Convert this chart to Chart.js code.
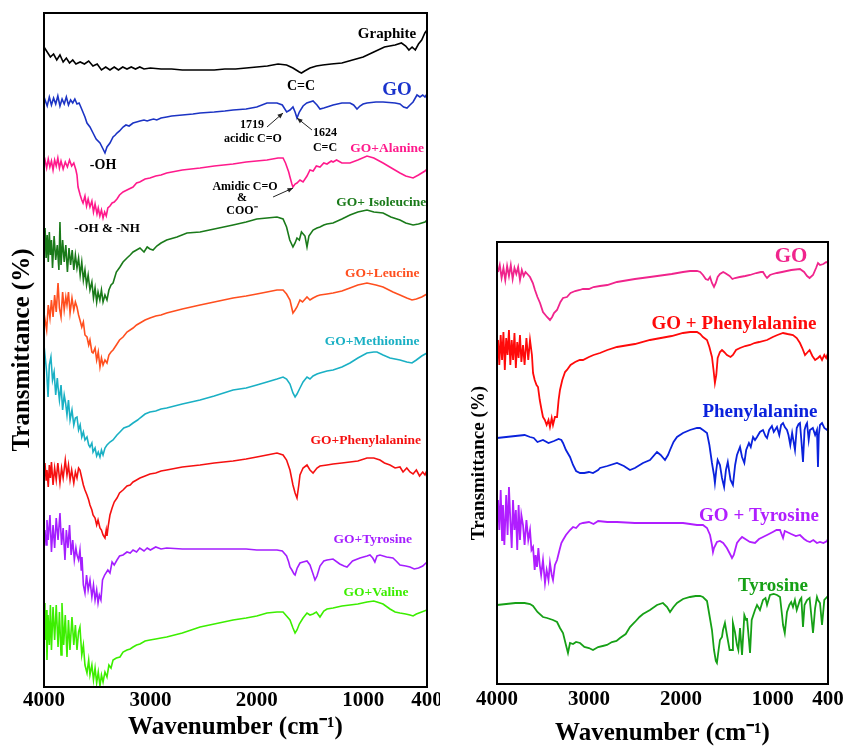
<!DOCTYPE html>
<html>
<head>
    <title>FTIR spectra - GO and amino acids</title>
    <script src="https://cdn.jsdelivr.net/npm/chart.js"></script>
    <style>
        body { margin: 0; background: #fff; }
        canvas { position: absolute; top: 0; }
        #leftChart { left: 0; }
        #rightChart { left: 450px; }
    </style>
</head>
<body>
    <canvas id="leftChart" width="440" height="749"></canvas>
    <canvas id="rightChart" width="395" height="749"></canvas>

    <script type="text/javascript">
        // wavenumber ticks (cm-1), same for both panels
        var xTicks = [4000, 3000, 2000, 1000, 400];

        // ---- left panel: stacked spectra, [wavenumber, transmittance a.u.] ----
        var graphite = [[4000,640],[3970,635],[3940,630],[3910,633],[3880,627],[3850,632],[3820,625],[3790,629],[3760,624],[3730,627],[3700,623],[3660,625],[3620,623],[3580,626],[3540,621],[3500,623],[3460,617],[3420,620],[3380,617],[3340,620],[3300,617],[3260,620],[3220,618],[3180,620],[3140,618],[3100,620],[3060,618],[3000,619],[2900,618],[2800,618],[2700,617],[2600,617],[2500,617],[2400,617],[2300,618],[2200,618],[2100,619],[2000,620],[1900,621],[1800,623],[1720,622],[1660,619],[1600,615],[1580,614],[1550,616],[1500,619],[1440,621],[1380,622],[1300,623],[1200,624],[1100,627],[1000,630],[900,635],[800,640],[700,642],[640,644],[600,641],[570,637],[540,640],[510,637],[480,643],[450,647],[420,654],[400,657]];

        var goLeft = [[4000,584],[3990,587],[3970,581],[3950,590],[3930,582],[3910,589],[3890,583],[3870,591],[3850,581],[3830,588],[3810,583],[3790,590],[3770,582],[3750,587],[3730,584],[3710,588],[3690,583],[3670,584],[3650,579],[3615,570],[3596,564],[3568,560],[3539,554],[3510,548],[3474,544],[3445,538],[3427,534],[3408,540],[3380,544],[3351,550],[3330,552],[3314,554],[3290,556],[3257,560],[3230,562],[3200,561],[3163,564],[3130,565],[3098,566],[3060,567],[3030,566],[3004,567],[2970,568],[2940,567],[2900,569],[2847,570],[2800,571],[2700,572],[2600,573],[2533,574],[2400,575],[2300,576],[2223,577],[2100,578],[2000,580],[1904,584],[1810,584],[1760,582],[1719,575],[1688,577],[1660,580],[1640,575],[1622,569],[1600,575],[1565,581],[1530,584],[1471,586],[1434,582],[1406,578],[1370,579],[1340,580],[1283,582],[1200,584],[1124,584],[1090,582],[1058,578],[1030,581],[1001,583],[964,584],[880,585],[813,585],[700,584],[654,583],[620,580],[588,579],[560,582],[531,585],[494,592],[466,590],[440,592],[419,590],[400,593]];

        var goAlanine = [[4000,524],[3990,527],[3975,519],[3960,528],[3945,520],[3930,526],[3915,517],[3900,527],[3885,521],[3870,529],[3855,519],[3840,526],[3820,518],[3800,525],[3780,520],[3760,527],[3740,521],[3720,524],[3700,517],[3690,512],[3680,500],[3660,492],[3645,487],[3633,484],[3615,491],[3600,481],[3585,488],[3568,480],[3550,486],[3535,475],[3520,483],[3502,473],[3490,479],[3475,471],[3460,477],[3445,469],[3430,475],[3415,471],[3400,479],[3380,481],[3360,484],[3340,485],[3314,488],[3290,492],[3257,495],[3220,497],[3163,500],[3130,504],[3100,505],[3050,508],[3004,509],[2950,511],[2900,512],[2847,514],[2700,517],[2533,519],[2400,521],[2223,523],[2100,525],[1904,527],[1800,529],[1753,529],[1730,524],[1700,515],[1688,510],[1670,503],[1660,500],[1640,503],[1622,504],[1594,507],[1565,505],[1528,511],[1500,517],[1470,516],[1440,521],[1406,520],[1370,524],[1340,523],[1300,526],[1283,525],[1250,527],[1200,524],[1124,524],[1050,527],[964,531],[900,529],[813,524],[750,520],[654,514],[600,511],[531,509],[480,512],[419,516],[400,518]];

        var goIsoleucine = [[4000,447],[3990,459],[3980,429],[3970,452],[3960,425],[3950,455],[3940,432],[3930,447],[3920,419],[3905,451],[3890,427],[3875,442],[3860,417],[3850,465],[3840,422],[3825,447],[3810,425],[3795,442],[3780,415],[3765,439],[3750,422],[3735,437],[3720,417],[3705,432],[3690,419],[3675,429],[3660,412],[3645,425],[3630,407],[3615,417],[3600,402],[3585,412],[3568,397],[3550,405],[3535,389],[3520,399],[3505,385],[3492,395],[3475,387],[3460,397],[3445,385],[3427,392],[3408,387],[3390,397],[3370,402],[3351,404],[3320,415],[3286,420],[3257,425],[3220,429],[3190,432],[3163,435],[3130,437],[3098,439],[3060,435],[3030,440],[3004,438],[2975,437],[2940,441],[2900,444],[2847,447],[2750,450],[2656,454],[2533,455],[2400,458],[2223,462],[2100,465],[2000,468],[1904,469],[1810,470],[1753,468],[1720,460],[1690,447],[1660,440],[1640,444],[1622,449],[1600,447],[1580,455],[1547,451],[1528,440],[1510,451],[1471,457],[1434,459],[1406,460],[1370,462],[1340,463],[1283,464],[1200,468],[1124,472],[1050,475],[964,477],[900,475],[813,474],[740,470],[654,467],[600,464],[531,462],[480,463],[419,465],[400,467]];

        var goLeucine = [[4000,360],[3990,367],[3975,357],[3960,382],[3944,369],[3930,387],[3915,370],[3900,392],[3885,375],[3868,404],[3855,379],[3840,370],[3825,395],[3810,377],[3795,390],[3784,382],[3770,395],[3755,374],[3737,389],[3720,377],[3705,385],[3690,380],[3675,372],[3662,367],[3645,360],[3630,365],[3615,352],[3596,350],[3580,342],[3568,347],[3550,335],[3539,334],[3520,339],[3505,327],[3490,335],[3474,320],[3460,329],[3445,322],[3427,327],[3408,324],[3390,332],[3370,335],[3351,337],[3320,342],[3290,347],[3257,350],[3220,355],[3163,359],[3130,362],[3098,364],[3050,367],[3004,369],[2950,371],[2900,372],[2847,374],[2700,378],[2533,382],[2400,385],[2223,389],[2100,391],[2000,393],[1904,395],[1810,397],[1753,397],[1720,393],[1688,387],[1660,374],[1640,377],[1622,380],[1594,387],[1570,385],[1528,390],[1500,387],[1471,389],[1434,391],[1406,392],[1340,393],[1283,394],[1200,396],[1124,399],[1050,402],[964,404],[880,402],[813,400],[720,395],[654,392],[590,389],[541,387],[500,388],[450,390],[400,393]];

        var goMethionine = [[4000,342],[3991,342],[3975,315],[3962,290],[3950,322],[3935,330],[3920,307],[3905,315],[3890,292],[3875,309],[3868,300],[3855,287],[3840,302],[3825,277],[3810,292],[3797,284],[3784,272],[3770,287],[3755,267],[3737,277],[3720,262],[3705,269],[3690,270],[3675,257],[3660,262],[3645,250],[3630,255],[3615,247],[3596,250],[3580,242],[3568,240],[3550,244],[3539,235],[3520,239],[3505,231],[3490,235],[3474,230],[3460,237],[3445,232],[3427,239],[3408,242],[3380,245],[3351,247],[3314,252],[3286,255],[3250,259],[3200,261],[3163,264],[3120,267],[3098,269],[3050,273],[3004,275],[2950,276],[2900,278],[2847,279],[2700,283],[2533,287],[2400,291],[2223,297],[2100,299],[2000,302],[1904,305],[1810,308],[1753,310],[1720,308],[1688,303],[1660,294],[1640,290],[1622,293],[1594,299],[1565,305],[1528,310],[1500,308],[1471,311],[1434,313],[1406,314],[1340,316],[1283,317],[1200,320],[1124,324],[1050,329],[964,334],[900,335],[870,335],[813,332],[748,329],[654,327],[590,325],[541,324],[500,327],[450,331],[400,334]];

        var goPhenylalanine = [[4000,217],[3991,224],[3980,207],[3972,217],[3960,200],[3950,222],[3940,209],[3930,225],[3915,202],[3900,219],[3885,207],[3870,224],[3850,204],[3835,219],[3820,209],[3800,227],[3784,212],[3770,222],[3755,207],[3740,217],[3720,204],[3705,215],[3690,209],[3675,219],[3662,217],[3645,209],[3630,202],[3615,197],[3596,192],[3580,187],[3568,182],[3550,177],[3539,172],[3520,169],[3505,162],[3492,167],[3474,159],[3460,157],[3445,152],[3427,149],[3415,157],[3408,151],[3395,162],[3380,172],[3360,179],[3340,185],[3314,189],[3290,194],[3257,197],[3220,201],[3190,202],[3163,205],[3130,207],[3098,209],[3050,211],[3004,213],[2950,214],[2900,216],[2847,217],[2700,220],[2533,222],[2400,224],[2223,226],[2100,228],[2000,230],[1904,232],[1810,234],[1753,232],[1720,227],[1688,217],[1660,202],[1640,194],[1622,189],[1605,202],[1594,212],[1565,219],[1528,222],[1500,217],[1471,214],[1434,219],[1406,221],[1340,222],[1283,223],[1200,224],[1124,225],[1050,226],[964,229],[900,229],[842,227],[800,224],[748,222],[700,219],[654,220],[625,215],[590,219],[560,215],[531,213],[500,217],[470,211],[440,215],[419,212],[400,217]];

        var goTyrosine = [[4000,150],[3991,157],[3980,142],[3972,167],[3960,147],[3944,172],[3930,135],[3915,162],[3900,139],[3885,169],[3868,147],[3850,174],[3835,142],[3820,159],[3803,127],[3790,157],[3775,139],[3760,162],[3745,132],[3730,147],[3715,127],[3700,139],[3690,132],[3675,127],[3662,137],[3650,117],[3643,130],[3630,102],[3615,94],[3600,112],[3585,97],[3568,107],[3550,90],[3535,102],[3520,87],[3505,97],[3492,84],[3480,92],[3465,87],[3450,107],[3430,112],[3400,117],[3380,114],[3360,125],[3340,122],[3314,127],[3290,131],[3257,132],[3220,135],[3190,134],[3163,137],[3130,135],[3100,139],[3060,136],[3030,139],[3000,137],[2950,140],[2900,138],[2847,139],[2700,138],[2533,138],[2400,138],[2223,138],[2100,138],[2000,137],[1904,137],[1810,137],[1760,136],[1720,131],[1700,125],[1688,120],[1670,117],[1650,113],[1640,112],[1620,119],[1594,124],[1565,125],[1528,126],[1500,122],[1471,113],[1453,107],[1434,111],[1406,121],[1370,126],[1340,127],[1283,128],[1220,123],[1180,121],[1152,120],[1100,126],[1030,129],[964,131],[936,132],[910,129],[890,125],[870,131],[842,132],[780,130],[720,129],[690,126],[654,122],[600,121],[560,120],[520,118],[480,119],[440,121],[400,125]];

        var goValine = [[4000,84],[3991,47],[3980,77],[3972,27],[3962,72],[3950,42],[3940,82],[3930,37],[3915,80],[3900,47],[3885,82],[3868,40],[3855,75],[3840,32],[3831,84],[3815,42],[3800,72],[3784,30],[3770,67],[3756,37],[3737,70],[3720,42],[3705,62],[3690,37],[3675,55],[3662,60],[3645,32],[3630,42],[3615,22],[3596,14],[3580,27],[3568,12],[3550,22],[3535,7],[3520,19],[3505,4],[3490,15],[3474,1],[3460,12],[3445,5],[3427,15],[3408,10],[3390,22],[3370,19],[3351,27],[3320,29],[3286,30],[3257,35],[3220,37],[3190,38],[3163,40],[3130,42],[3098,43],[3050,46],[3004,47],[2950,48],[2900,49],[2847,50],[2700,54],[2533,60],[2400,63],[2223,67],[2100,69],[2000,71],[1904,74],[1810,75],[1753,75],[1720,71],[1688,67],[1660,59],[1640,54],[1622,57],[1600,63],[1565,69],[1528,74],[1500,72],[1471,73],[1440,75],[1406,70],[1370,76],[1340,78],[1283,79],[1200,81],[1124,82],[1050,83],[964,85],[900,86],[870,85],[813,83],[748,78],[700,75],[654,74],[600,73],[560,72],[531,71],[500,73],[450,75],[400,77]];

        // ---- right panel ----
        var goRight = [[3989,412],[3970,419],[3950,406],[3930,416],[3910,404],[3890,418],[3870,408],[3850,419],[3830,405],[3810,416],[3790,410],[3770,417],[3750,404],[3730,414],[3710,408],[3690,412],[3660,409],[3641,407],[3610,401],[3587,394],[3560,387],[3532,381],[3500,372],[3456,367],[3424,364],[3400,367],[3380,371],[3347,374],[3310,382],[3282,386],[3239,387],[3200,391],[3150,393],[3100,394],[3065,395],[3000,395],[2950,397],[2880,398],[2800,399],[2695,402],[2500,405],[2336,407],[2100,410],[1977,412],[1900,413],[1825,413],[1790,412],[1760,409],[1730,405],[1705,404],[1683,407],[1662,401],[1640,397],[1620,401],[1600,407],[1575,410],[1540,412],[1520,411],[1470,408],[1440,405],[1412,406],[1360,407],[1300,408],[1248,409],[1180,411],[1130,412],[1107,412],[1080,408],[1063,406],[1031,409],[1000,410],[955,411],[900,412],[800,414],[705,415],[660,412],[628,408],[600,406],[563,409],[530,416],[509,421],[487,419],[450,420],[420,422],[400,421]];

        var goPheRight = [[4000,337],[3989,344],[3975,319],[3960,349],[3945,324],[3930,352],[3915,314],[3900,346],[3885,329],[3870,354],[3855,319],[3840,344],[3825,324],[3810,351],[3795,316],[3780,342],[3765,326],[3750,349],[3735,322],[3717,339],[3700,319],[3680,346],[3660,324],[3641,344],[3620,329],[3608,311],[3590,304],[3570,299],[3554,297],[3535,284],[3515,274],[3500,267],[3480,264],[3460,259],[3440,264],[3424,257],[3405,266],[3391,259],[3370,267],[3347,267],[3330,284],[3315,294],[3290,304],[3260,312],[3239,314],[3200,319],[3150,322],[3100,324],[3065,324],[3000,327],[2950,329],[2880,331],[2800,334],[2695,337],[2500,340],[2336,344],[2100,348],[1977,351],[1900,352],[1825,352],[1790,350],[1760,347],[1716,344],[1690,337],[1662,327],[1645,314],[1630,301],[1615,309],[1600,326],[1575,332],[1553,334],[1530,332],[1499,329],[1460,327],[1434,329],[1400,334],[1357,336],[1300,338],[1248,339],[1200,341],[1150,342],[1063,344],[1000,347],[950,349],[889,351],[840,350],[781,349],[740,346],[705,341],[680,336],[650,329],[620,332],[600,334],[570,328],[540,324],[509,326],[487,328],[465,324],[440,329],[420,326],[400,331]];

        var phenylalanine = [[4000,246],[3900,247],[3800,248],[3700,249],[3641,247],[3600,246],[3560,242],[3500,244],[3440,241],[3380,243],[3330,245],[3300,244],[3282,241],[3250,234],[3206,227],[3173,219],[3140,213],[3097,211],[3050,211],[3000,212],[2956,211],[2900,214],[2880,216],[2800,218],[2695,221],[2620,218],[2554,214],[2500,216],[2412,221],[2336,224],[2260,232],[2220,229],[2173,224],[2140,229],[2118,234],[2080,242],[2042,247],[1977,251],[1901,254],[1825,256],[1792,256],[1760,254],[1716,251],[1690,239],[1662,221],[1640,209],[1630,201],[1615,214],[1600,224],[1575,219],[1553,206],[1530,197],[1510,214],[1490,222],[1460,204],[1434,199],[1410,219],[1390,229],[1357,237],[1335,227],[1310,221],[1290,234],[1260,241],[1240,237],[1215,247],[1194,244],[1172,247],[1140,252],[1107,254],[1080,248],[1063,246],[1040,254],[1010,258],[990,252],[955,257],[930,249],[910,259],[889,261],[870,257],[846,254],[830,249],[810,239],[790,251],[759,234],[740,256],[720,260],[705,261],[690,244],[672,222],[655,254],[640,259],[628,261],[610,244],[596,254],[565,256],[540,249],[520,254],[509,217],[500,249],[487,259],[465,261],[440,256],[411,254],[400,256]];

        var goTyrRight = [[4000,171],[3989,184],[3975,154],[3960,194],[3945,144],[3935,179],[3920,139],[3900,189],[3885,149],[3870,197],[3855,164],[3840,136],[3826,184],[3810,154],[3795,174],[3780,134],[3765,179],[3750,144],[3735,169],[3717,159],[3700,139],[3680,164],[3660,144],[3641,154],[3625,134],[3608,137],[3590,114],[3580,129],[3565,117],[3550,136],[3535,119],[3520,109],[3500,124],[3478,101],[3460,114],[3440,104],[3424,121],[3405,109],[3391,104],[3370,119],[3347,124],[3320,134],[3300,141],[3282,144],[3250,149],[3206,154],[3173,157],[3140,156],[3100,160],[3065,161],[3000,162],[2950,160],[2900,163],[2800,162],[2695,162],[2500,161],[2336,161],[2100,161],[1977,161],[1900,160],[1825,159],[1760,159],[1716,156],[1683,149],[1662,139],[1651,132],[1640,136],[1608,142],[1575,143],[1540,141],[1500,136],[1460,129],[1444,126],[1425,129],[1390,141],[1357,145],[1335,147],[1300,145],[1250,142],[1194,141],[1150,145],[1107,147],[1063,149],[1000,152],[960,154],[922,154],[889,146],[870,153],[846,152],[800,150],[750,148],[705,149],[660,145],[628,143],[596,142],[560,144],[520,141],[487,142],[450,141],[411,143],[400,145]];

        var tyrosine = [[4000,79],[3900,80],[3800,81],[3700,81],[3641,80],[3608,78],[3560,72],[3500,67],[3456,66],[3391,64],[3347,62],[3315,56],[3282,51],[3250,39],[3228,31],[3206,41],[3173,40],[3140,42],[3097,41],[3050,37],[3000,36],[2956,34],[2900,37],[2850,38],[2804,39],[2750,42],[2700,43],[2662,46],[2600,50],[2554,57],[2500,62],[2450,67],[2412,70],[2336,74],[2260,79],[2195,81],[2150,77],[2118,72],[2080,77],[2042,81],[1977,85],[1901,87],[1840,88],[1792,88],[1760,87],[1716,83],[1690,69],[1662,54],[1640,34],[1620,23],[1608,21],[1590,34],[1575,44],[1553,47],[1542,54],[1521,61],[1499,49],[1470,34],[1444,34],[1434,61],[1412,52],[1390,39],[1375,34],[1357,56],[1335,29],[1310,69],[1290,64],[1281,66],[1260,44],[1248,31],[1230,64],[1194,74],[1172,79],[1140,74],[1107,84],[1080,86],[1063,79],[1031,89],[990,90],[955,89],[922,87],[900,69],[889,59],[870,51],[846,72],[820,79],[800,82],[781,77],[760,84],[740,74],[705,84],[690,86],[672,57],[655,79],[628,84],[600,86],[563,51],[540,76],[520,87],[509,84],[487,81],[465,59],[440,84],[411,87],[400,88]];

        var SERIF = "'Liberation Serif', 'Times New Roman', serif";

        // frame + text labels + arrows, placed in data units
        var notesPlugin = {
            id: 'notes',
            afterDatasetsDraw: function(chart, args, opts) {
                var ctx = chart.ctx, xs = chart.scales.x, ys = chart.scales.y, a = chart.chartArea;
                ctx.save();
                ctx.strokeStyle = '#000';
                ctx.lineWidth = 2;
                ctx.strokeRect(a.left, a.top, a.right - a.left, a.bottom - a.top);
                ctx.textAlign = 'center';
                ctx.textBaseline = 'middle';
                (opts.labels || []).forEach(function(l) {
                    ctx.font = 'bold ' + l.size + 'px ' + SERIF;
                    ctx.fillStyle = l.color;
                    ctx.fillText(l.text, xs.getPixelForValue(l.x), ys.getPixelForValue(l.y));
                });
                (opts.arrows || []).forEach(function(r) {
                    var x1 = xs.getPixelForValue(r.from[0]), y1 = ys.getPixelForValue(r.from[1]);
                    var x2 = xs.getPixelForValue(r.to[0]), y2 = ys.getPixelForValue(r.to[1]);
                    var ang = Math.atan2(y2 - y1, x2 - x1);
                    ctx.strokeStyle = '#222';
                    ctx.fillStyle = '#222';
                    ctx.lineWidth = 1;
                    ctx.beginPath();
                    ctx.moveTo(x1, y1);
                    ctx.lineTo(x2, y2);
                    ctx.stroke();
                    ctx.beginPath();
                    ctx.moveTo(x2, y2);
                    ctx.lineTo(x2 - 6 * Math.cos(ang - 0.4), y2 - 6 * Math.sin(ang - 0.4));
                    ctx.lineTo(x2 - 6 * Math.cos(ang + 0.4), y2 - 6 * Math.sin(ang + 0.4));
                    ctx.closePath();
                    ctx.fill();
                });
                ctx.restore();
            }
        };

        function makeSets(list, width) {
            return list.map(function(s) {
                return {
                    data: s.data.map(function(p) { return {x: p[0], y: p[1]}; }),
                    borderColor: s.color,
                    borderWidth: width,
                    pointRadius: 0,
                    tension: 0,
                    fill: false
                };
            });
        }

        function initChart(canvas, sets, cfg) {
            return new Chart(canvas.getContext('2d'), {
                type: 'line',
                data: { datasets: sets },
                options: {
                    responsive: false,
                    animation: false,
                    devicePixelRatio: 1,
                    parsing: false,
                    layout: { padding: { top: cfg.top, right: cfg.right, left: 0, bottom: 0 } },
                    plugins: {
                        legend: { display: false },
                        tooltip: { enabled: false },
                        notes: { labels: cfg.labels, arrows: cfg.arrows }
                    },
                    scales: {
                        x: {
                            type: 'linear',
                            min: 400,
                            max: 4000,
                            reverse: true,
                            grid: { display: false, drawTicks: false },
                            border: { display: false },
                            afterBuildTicks: function(scale) {
                                scale.ticks = xTicks.map(function(v) { return {value: v}; });
                            },
                            afterFit: function(scale) {
                                scale.height = cfg.xHeight;
                                scale.paddingLeft = 0;
                                scale.paddingRight = 0;
                            },
                            ticks: {
                                autoSkip: false,
                                maxRotation: 0,
                                padding: cfg.tickPad,
                                color: '#000',
                                font: { family: SERIF, weight: 'bold', size: 21 },
                                callback: function(v) { return String(v); }
                            },
                            title: {
                                display: true,
                                text: 'Wavenumber (cm\u207B\u00B9)',
                                color: '#000',
                                padding: { top: 0, bottom: cfg.xTitlePad },
                                font: { family: SERIF, weight: 'bold', size: 25 }
                            }
                        },
                        y: {
                            min: 0,
                            max: cfg.yMax,
                            grid: { display: false, drawTicks: false },
                            border: { display: false },
                            ticks: { display: false },
                            afterFit: function(scale) { scale.width = cfg.yWidth; },
                            title: {
                                display: true,
                                text: 'Transmittance (%)',
                                color: '#000',
                                padding: { top: cfg.yTitlePad, bottom: 0 },
                                font: { family: SERIF, weight: 'bold', size: cfg.yTitleSize }
                            }
                        }
                    }
                },
                plugins: [notesPlugin]
            });
        }

        var leftSeries = [
            { data: graphite, color: '#000000' },
            { data: goLeft, color: '#1c34c4' },
            { data: goAlanine, color: '#ff1a8c' },
            { data: goIsoleucine, color: '#1a7a1a' },
            { data: goLeucine, color: '#ff4f1f' },
            { data: goMethionine, color: '#1ab0c4' },
            { data: goPhenylalanine, color: '#f51010' },
            { data: goTyrosine, color: '#a41eff' },
            { data: goValine, color: '#3cee00' }
        ];

        var rightSeries = [
            { data: goRight, color: '#f0248c' },
            { data: goPheRight, color: '#ff0a0a' },
            { data: phenylalanine, color: '#0a22dc' },
            { data: goTyrRight, color: '#b01eff' },
            { data: tyrosine, color: '#16a016' }
        ];

        var leftChart = initChart(document.getElementById('leftChart'), makeSets(leftSeries, 1.6), {
            top: 13, right: 13, yMax: 674, yWidth: 44, xHeight: 62,
            tickPad: 1, xTitlePad: 6, yTitlePad: 8, yTitleSize: 25,
            labels: [
                { text: 'Graphite', x: 776, y: 653, size: 15, color: '#000' },
                { text: 'C=C', x: 1584, y: 601, size: 14, color: '#000' },
                { text: 'GO', x: 682, y: 597, size: 19, color: '#1a33cc' },
                { text: '1719', x: 2045, y: 562, size: 12, color: '#000' },
                { text: 'acidic C=O', x: 2036, y: 548, size: 12, color: '#000' },
                { text: '1624', x: 1359, y: 554, size: 12, color: '#000' },
                { text: 'C=C', x: 1359, y: 539, size: 12, color: '#000' },
                { text: '-OH', x: 3445, y: 522, size: 14, color: '#000' },
                { text: 'GO+Alanine', x: 775, y: 538, size: 13.5, color: '#ff1a8c' },
                { text: 'Amidic C=O', x: 2111, y: 500, size: 12, color: '#000' },
                { text: '&', x: 2139, y: 489, size: 12, color: '#000' },
                { text: 'COO\u207B', x: 2139, y: 476, size: 12, color: '#000' },
                { text: '-OH & -NH', x: 3408, y: 458, size: 13, color: '#000' },
                { text: 'GO+ Isoleucine', x: 830, y: 484, size: 13.5, color: '#1a7a1a' },
                { text: 'GO+Leucine', x: 820, y: 413, size: 13.5, color: '#ff4f1f' },
                { text: 'GO+Methionine', x: 915, y: 345, size: 13.5, color: '#1ab0c4' },
                { text: 'GO+Phenylalanine', x: 975, y: 246, size: 13.5, color: '#f51010' },
                { text: 'GO+Tyrosine', x: 910, y: 147, size: 13.5, color: '#a41eff' },
                { text: 'GO+Valine', x: 880, y: 94, size: 13.5, color: '#3cee00' }
            ],
            arrows: [
                { from: [1904, 560], to: [1753, 574] },
                { from: [1481, 557], to: [1622, 569] },
                { from: [1847, 490], to: [1659, 499] }
            ]
        });

        var rightChart = initChart(document.getElementById('rightChart'), makeSets(rightSeries, 1.8), {
            top: 242, right: 17, yMax: 442, yWidth: 47, xHeight: 65,
            tickPad: 3, xTitlePad: 0, yTitlePad: 18, yTitleSize: 19,
            labels: [
                { text: 'GO', x: 802, y: 427, size: 21, color: '#f0248c' },
                { text: 'GO + Phenylalanine', x: 1422, y: 360, size: 19, color: '#ff0a0a' },
                { text: 'Phenylalanine', x: 1140, y: 272, size: 19, color: '#0a22dc' },
                { text: 'GO + Tyrosine', x: 1150, y: 168, size: 19, color: '#b01eff' },
                { text: 'Tyrosine', x: 998, y: 98, size: 19, color: '#16a016' }
            ],
            arrows: []
        });
    </script>
</body>
</html>
